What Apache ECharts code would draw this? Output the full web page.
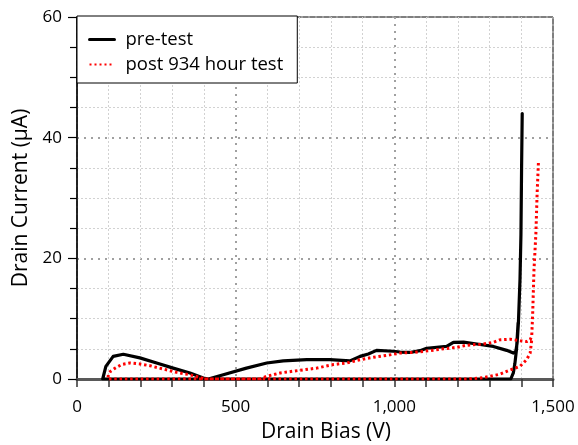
<!DOCTYPE html>
<html>
<head>
<meta charset="utf-8">
<script src="https://cdn.jsdelivr.net/npm/echarts@6/dist/echarts.min.js"></script>
<style>
  html, body { margin: 0; padding: 0; background: #fff; }
  #chart { width: 578px; height: 445px; }
</style>
</head>
<body>
<div id="chart"></div>
<script>
// Drain current vs. drain bias sweeps (loop traced from the peak back round)
const preTestBias = [1403, 1401, 1399, 1396, 1391, 1387, 1383, 1375, 1354, 1312, 1260, 1218, 1186, 1165, 1102, 1081, 1049, 1018, 997, 944, 918, 892, 860, 797, 724, 650, 598, 534, 461, 414, 398, 356, 303, 251, 198, 146, 114, 91, 81, 1367, 1375, 1380, 1385, 1390];
const preTestCurrent = [44, 35, 24, 16.5, 9.3, 6.0, 4.6, 4.3, 4.75, 5.4, 5.8, 6.1, 6.07, 5.4, 5.1, 4.7, 4.4, 4.47, 4.6, 4.75, 4.15, 3.75, 3.0, 3.2, 3.2, 3.0, 2.65, 1.8, 0.7, 0, 0.15, 1.0, 1.8, 2.65, 3.5, 4.1, 3.75, 2.1, 0, 0, 1.0, 2.6, 4.9, 9.3];

const postTestBias = [1454, 1450, 1446, 1440, 1436, 1433, 1428, 1417, 1396, 1365, 1333, 1312, 1281, 1228, 1197, 1155, 1112, 1060, 1018, 986, 934, 892, 850, 808, 755, 703, 640, 598, 577, 402, 387, 356, 314, 272, 230, 198, 167, 141, 120, 106, 99, 97, 1230, 1270, 1302, 1333, 1365, 1396, 1417, 1428, 1433];
const postTestCurrent = [35.8, 30.8, 24, 18, 10.9, 7.1, 6.5, 6.2, 6.35, 6.6, 6.5, 6.07, 5.8, 5.6, 5.25, 5.0, 4.7, 4.4, 4.3, 4.0, 3.6, 3.2, 2.65, 2.4, 1.8, 1.45, 1.0, 0.45, 0, 0, 0.27, 0.7, 1.1, 1.65, 2.2, 2.5, 2.65, 2.4, 1.8, 1.3, 0.7, 0, 0, 0.15, 0.45, 0.8, 1.5, 2.1, 3.2, 4.3, 6.5];

const seriesNames = ['pre-test', 'post 934 hour test'];
const xTickValues = [0, 500, 1000, 1500];
const yTickValues = [0, 20, 40, 60];

const zip = (xs, ys) => xs.map((x, i) => [x, ys[i]]);
const FONT = 'Open Sans';

const chart = echarts.init(document.getElementById('chart'), null, { renderer: 'canvas' });

chart.setOption({
  animation: false,
  backgroundColor: '#fff',
  textStyle: { fontFamily: FONT },
  grid: {
    left: 77, right: 25, top: 17, bottom: 66,
    outerBoundsMode: 'none',
    containLabel: false,
    show: true, borderColor: '#000', borderWidth: 1, backgroundColor: 'transparent'
  },
  legend: {
    left: 77, top: 16,
    orient: 'vertical',
    backgroundColor: '#fff',
    borderColor: '#000', borderWidth: 1, borderRadius: 0,
    padding: [14, 14, 9, 11],
    itemGap: 6,
    itemWidth: 25, itemHeight: 18,
    itemStyle: { opacity: 0 },
    textStyle: { fontFamily: FONT, fontSize: 18.5, lineHeight: 18, color: '#000', padding: [0, 0, 0, 6] },
    data: [
      { name: seriesNames[0], lineStyle: { width: 3 } },
      { name: seriesNames[1], lineStyle: { width: 2, type: [2, 3] } }
    ]
  },
  xAxis: {
    type: 'value',
    min: xTickValues[0], max: xTickValues[xTickValues.length - 1], interval: 500,
    name: 'Drain Bias (V)',
    nameLocation: 'middle', nameGap: 43,
    nameTextStyle: { fontFamily: FONT, fontSize: 21, color: '#000', padding: [0, 0, 0, 22] },
    axisLine: { show: true, onZero: false, lineStyle: { color: '#595959', width: 3 } },
    axisTick: { show: true, length: 8, lineStyle: { color: '#333', width: 1.5 } },
    minorTick: { show: true, splitNumber: 5, length: 8, lineStyle: { color: '#333', width: 1.5 } },
    axisLabel: {
      fontFamily: FONT, fontSize: 17, color: '#000', margin: 20,
      formatter: v => v.toLocaleString('en-US')
    },
    splitLine: { show: true, lineStyle: { color: '#a0a0a0', width: 2, type: [2, 5] } },
    minorSplitLine: { show: true, lineStyle: { color: '#d2d2d2', width: 1, type: [2, 2] } }
  },
  yAxis: {
    type: 'value',
    min: yTickValues[0], max: yTickValues[yTickValues.length - 1], interval: 20,
    name: 'Drain Current (µA)',
    nameLocation: 'middle', nameGap: 40,
    nameTextStyle: { fontFamily: FONT, fontSize: 21, color: '#000' },
    axisLine: { show: true, lineStyle: { color: '#000', width: 1.5 } },
    axisTick: { show: true, length: 9, lineStyle: { color: '#000', width: 1.2 } },
    minorTick: { show: true, splitNumber: 4, length: 7, lineStyle: { color: '#000', width: 1.2 } },
    axisLabel: { fontFamily: FONT, fontSize: 17, color: '#000', margin: 15 },
    splitLine: { show: true, lineStyle: { color: '#a0a0a0', width: 2, type: [2, 5] } },
    minorSplitLine: { show: true, lineStyle: { color: '#d2d2d2', width: 1, type: [2, 2] } }
  },
  series: [
    {
      name: seriesNames[0],
      type: 'line',
      data: zip(preTestBias, preTestCurrent),
      symbol: 'none', showSymbol: false,
      lineStyle: { color: '#000', width: 3.2, join: 'round', cap: 'round' },
      itemStyle: { color: '#000' },
      z: 2
    },
    {
      name: seriesNames[1],
      type: 'line',
      data: zip(postTestBias, postTestCurrent),
      symbol: 'none', showSymbol: false,
      lineStyle: { color: '#ff0000', width: 3, type: [2.5, 2.8] },
      itemStyle: { color: '#ff0000' },
      z: 3
    }
  ]
});
</script>
</body>
</html>
